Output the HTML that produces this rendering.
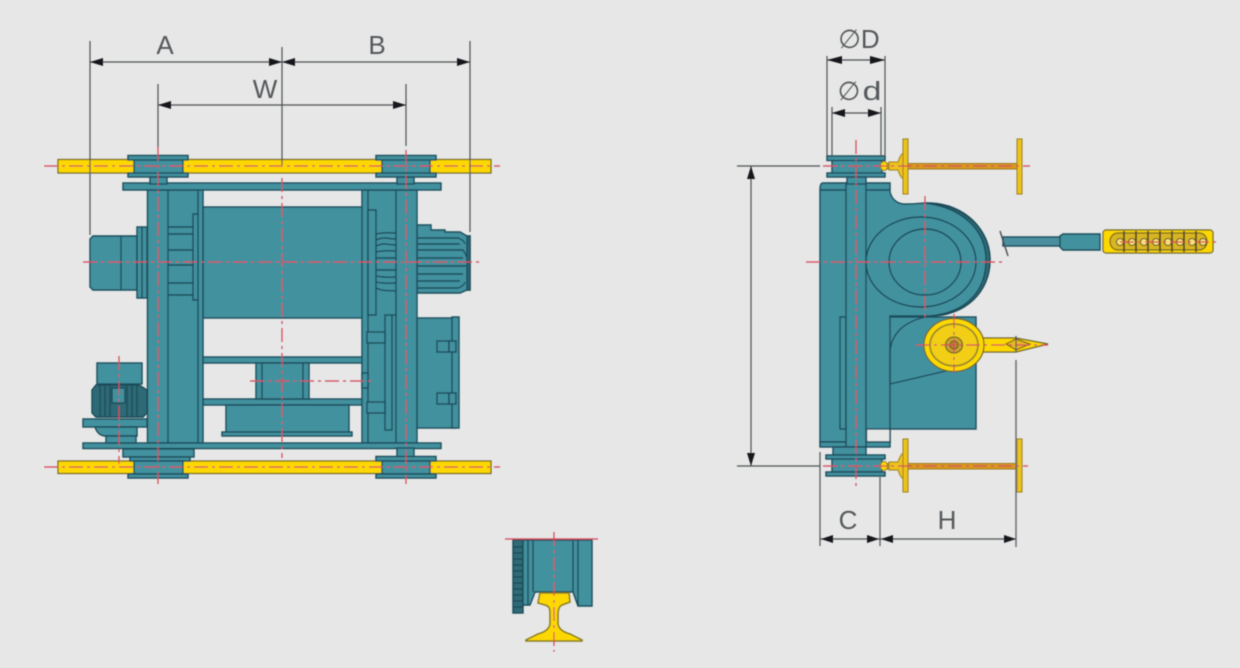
<!DOCTYPE html>
<html><head><meta charset="utf-8"><style>
html,body{margin:0;padding:0;background:#e6e7e6;width:1240px;height:668px;overflow:hidden}
svg{display:block}
text{font-family:"Liberation Sans","DejaVu Sans",sans-serif;font-size:26px;fill:#55595b;text-anchor:middle}
.t rect,.t path,.t ellipse,.t circle{fill:#43919f;stroke:#1c4c5a;stroke-width:1.4}
.t .d{fill:#2f6a76}
.t line,.t .l{stroke:#1c4c5a;stroke-width:1.4;fill:none}
.y rect,.y path,.y ellipse{fill:#fdd800;stroke:#6d6420;stroke-width:1.2}
.o rect,.o path,.o ellipse{fill:#ecc31a;stroke:#9a7a20;stroke-width:1}
.c line{stroke:#d8465a;stroke-width:1.2;stroke-dasharray:14 4 3 4;fill:none}
.dim line{stroke:#4e5254;stroke-width:1.2}
.dim path{fill:#15181a;stroke:none}
</style></head><body>
<svg width="1240" height="668" viewBox="0 0 1240 668" xmlns="http://www.w3.org/2000/svg">
<defs><filter id="b" x="0" y="0" width="100%" height="100%"><feGaussianBlur stdDeviation="0.45"/></filter></defs>
<rect width="1240" height="668" fill="#e6e7e6"/>
<g filter="url(#b)">
<!-- LEFT VIEW -->
<g class="y">
<rect x="58" y="159.500" width="433" height="13.500"/>
<rect x="58" y="461" width="433" height="12.500"/>
</g>
<g class="t">
<!-- left motor -->
<path d="M93 236H137V290H93L90 287V239Z"/>
<line x1="121" y1="236" x2="121" y2="290"/>
<rect x="137" y="227" width="10" height="71"/>
<line x1="142" y1="227" x2="142" y2="298"/>
<!-- right motor -->
<path d="M417 225H431V230H445V232H460L467 236H470V290H467L460 293H417Z"/>
<!-- right box -->
<rect x="417" y="318" width="38" height="110"/>
<rect x="452" y="317" width="7" height="111"/>
<rect x="437" y="341" width="12" height="11"/><rect x="449" y="341" width="7" height="11"/>
<rect x="437" y="393" width="12" height="11"/><rect x="449" y="393" width="7" height="11"/>
<!-- drum -->
<rect x="203" y="207" width="160" height="111"/>
<!-- beams -->
<rect x="203" y="357" width="160" height="6"/>
<rect x="203" y="399" width="160" height="6"/>
<rect x="256" y="363" width="53" height="36"/>
<line x1="262" y1="363" x2="262" y2="399"/><line x1="303" y1="363" x2="303" y2="399"/>
<rect x="226" y="405" width="123" height="28"/>
<rect x="222" y="432" width="130" height="4"/>
<!-- left frame -->
<rect x="147.500" y="190" width="55.500" height="253"/>
<line x1="168" y1="190" x2="168" y2="443"/>
<line x1="198" y1="190" x2="198" y2="443"/>
<path class="l" d="M198 214H193V300H198M168 227H193M168 234H193M168 250H193M168 265H193M168 283H193M168 295H193"/>
<!-- right frame -->
<rect x="362" y="190" width="55" height="253"/>
<line x1="368" y1="190" x2="368" y2="443"/>
<line x1="396" y1="190" x2="396" y2="443"/>
<rect x="368" y="210" width="8" height="105"/>
<rect x="385" y="315" width="7" height="115"/>
<line x1="392" y1="315" x2="396" y2="315"/>
<rect x="367" y="332" width="18" height="11"/>
<rect x="367" y="402" width="18" height="11"/>
<rect x="362" y="373" width="6" height="15"/>
<path class="l" d="M376 234C385 232 388 233 396 233M376 240C385 236 388 239 396 239M376 246C385 242 388 245 396 245M376 252C385 250 388 251 396 251M376 258C385 258 388 258 396 258M376 270C385 270 388 270 396 270M376 276C385 278 388 277 396 277M376 282C385 284 388 283 396 283M376 288C385 292 388 290 396 291"/>
<path class="l" d="M417 238H458Q464 240 465 244M417 244H460M417 250H463Q466 254 467 258M417 258H463M417 266H466M417 274H463M417 281H460M417 288H458Q464 286 465 282"/>
<rect x="467" y="236" width="3" height="54" class="d"/>
<!-- plates -->
<rect x="123" y="183" width="318" height="7"/>
<rect x="83" y="443" width="358" height="5.500"/>
<!-- top wheels -->
<rect x="150" y="177" width="17" height="7"/>
<rect x="397" y="177" width="17" height="7"/>
<rect x="134" y="158" width="49" height="17"/>
<rect x="128" y="155.500" width="60" height="4.500"/>
<rect x="128" y="173" width="60" height="4"/>
<rect x="382" y="158" width="48" height="17"/>
<rect x="376" y="155.500" width="60" height="4.500"/>
<rect x="376" y="173" width="60" height="4"/>
<!-- bottom wheels -->
<rect x="123" y="449" width="71" height="8"/>
<rect x="130" y="457" width="60" height="4"/>
<rect x="134" y="461" width="49" height="13"/>
<rect x="128" y="474" width="60" height="4"/>
<rect x="397" y="448" width="17" height="9"/>
<rect x="376" y="456.500" width="60" height="4.500"/>
<rect x="382" y="461" width="48" height="13"/>
<rect x="376" y="474" width="60" height="4"/>
<!-- small motor -->
<rect x="97" y="363" width="45" height="21"/>
<path class="d" d="M96 385H139L147 390V413L143 417H96L92 413V390Z"/>
<path class="l" d="M100 385V417M105 385V417M110 385V417M127 385V417M132 385V417M137 385V417"/>
<rect x="112" y="388" width="13" height="15"/>
<rect x="83" y="419" width="64" height="8"/>
<path d="M95 427H137V436H106Q98 436 95 427Z"/>
<rect x="106" y="436" width="30" height="7"/>
</g>
<!-- RIGHT VIEW -->
<g class="t">
<rect x="866" y="317" width="110" height="112"/>
<path d="M820 190Q820 183 823 183H890V192C892 200 898 205 908 204C915 204 920 203 930 203C965 204 990 230 990 260C990 292 965 316 930 316H890V442H820Z"/>
<path class="d" d="M925 203C965 204 990 230 990 260C990 292 965 316 930 316C970 312 986 288 986 260C986 232 965 208 925 203Z"/>
<rect x="866.500" y="429" width="23.500" height="13" style="fill:#e6e7e6"/>
<rect x="820" y="442" width="70" height="5"/>
<line x1="820" y1="190" x2="890" y2="190"/>
<ellipse cx="921" cy="262" rx="55" ry="45" class="l" style="fill:none"/>
<ellipse cx="925" cy="262" rx="36" ry="33" class="l" style="fill:none"/>
<rect x="840" y="317" width="6" height="112"/>
<rect x="846" y="183" width="20" height="264"/>
<path class="l" d="M890 384V352Q892 325 925 317"/>
<path class="l" d="M890 384L950 370"/>
<rect x="847" y="177" width="19" height="7"/>
<rect x="833" y="447" width="33" height="8"/>
<rect x="832" y="158" width="50" height="17"/>
<rect x="827" y="156" width="58" height="4.500"/>
<rect x="827" y="173" width="58" height="4"/>
<rect x="832" y="458" width="50" height="14"/>
<rect x="826" y="455" width="59" height="4"/>
<rect x="826" y="472" width="59" height="4"/>
</g>
<g class="o">
<rect x="885" y="163.500" width="134" height="5.500" style="fill:#d99a1e"/>
<path d="M889 162H898Q901 153 904 153V179Q901 179 898 170H889Z"/>
<ellipse cx="884" cy="166" rx="3.500" ry="4.500" style="fill:#fdd800"/>
<rect x="903" y="139" width="5" height="55"/>
<rect x="1017" y="139" width="5" height="55"/>
<rect x="885" y="463.500" width="134" height="5.500" style="fill:#d99a1e"/>
<path d="M889 462H898Q901 453 904 453V479Q901 479 898 470H889Z"/>
<ellipse cx="884" cy="466" rx="3.500" ry="4.500" style="fill:#fdd800"/>
<rect x="903" y="439" width="5" height="53"/>
<rect x="1017" y="439" width="5" height="53"/>
</g>
<g class="y">
<path d="M980 338H1016L1048 344L1016 352H980Z"/>
<path d="M1006 344L1016 339L1030 344L1016 350Z" style="fill:#e8b820"/>
<ellipse cx="954" cy="345" rx="30" ry="26.500"/>
<ellipse cx="954" cy="345" rx="24" ry="21" style="fill:#f2cf14;stroke:#9c8a2a;stroke-width:1.800"/>
<ellipse cx="954" cy="345" rx="8.500" ry="8" style="fill:#c9a030"/>
<ellipse cx="954" cy="345" rx="4" ry="4" style="fill:#b88730"/>
</g>
<!-- pendant -->
<g class="t">
<rect x="1003" y="237" width="58" height="9" style="fill:#4a8fa0"/>
<path d="M1060 236L1063 234H1100V250H1063L1060 247Z"/>
<line x1="1000" y1="231" x2="1008" y2="256" style="stroke:#4b5052"/>
</g>
<g class="y">
<rect x="1103" y="230" width="110" height="23" rx="3"/>
<rect x="1110" y="233" width="97" height="17" rx="8" style="fill:#d8b520"/>
</g>
<g fill="#f5e27c" stroke="#5a4a20" stroke-width="1">
<path d="M1124 231V252M1136 231V252M1148 231V252M1160 231V252M1172 231V252M1184 231V252M1196 231V252" fill="none" stroke-width="1.800"/>
<circle cx="1120" cy="242" r="3.500"/><circle cx="1132" cy="242" r="3.500"/><circle cx="1144" cy="242" r="3.500"/><circle cx="1156" cy="242" r="3.500"/><circle cx="1168" cy="242" r="3.500"/><circle cx="1180" cy="242" r="3.500"/><circle cx="1192" cy="242" r="3.500"/><circle cx="1203" cy="242" r="3.500"/>
</g>
<!-- SECTION -->
<g class="t">
<rect x="513" y="540" width="10" height="73" class="d"/>
<path class="l" style="stroke-width:1.500" d="M513 547H523M513 553H523M513 559H523M513 565H523M513 571H523M513 577H523M513 583H523M513 589H523M513 595H523M513 601H523M513 607H523"/>
<path d="M523 540H592V606H578L573 592H535L530 605H523Z"/>
<line x1="528" y1="540" x2="528" y2="605"/>
<line x1="533" y1="540" x2="533" y2="592"/>
<line x1="573" y1="540" x2="573" y2="592"/>
<line x1="578" y1="540" x2="578" y2="606"/>
</g>
<path d="M540 593H569L570 602L562 605Q558 607 558 614V624Q559 631 570 634L582 640V641H526V640L538 634Q549 631 550 624V612Q550 606 545 605L538 603Z" fill="#fdd800" stroke="#8a7a20" stroke-width="1.500"/>
<!-- center lines -->
<g class="c">
<line x1="44" y1="166" x2="500" y2="166"/>
<line x1="44" y1="467" x2="500" y2="467"/>
<line x1="83" y1="262" x2="482" y2="262"/>
<line x1="158" y1="147" x2="158" y2="484"/>
<line x1="406" y1="150" x2="406" y2="484"/>
<line x1="282" y1="178" x2="282" y2="458"/>
<line x1="250" y1="381" x2="372" y2="381"/>
<line x1="119" y1="356" x2="119" y2="464"/>
<line x1="806" y1="262" x2="1004" y2="262"/>
<line x1="925" y1="196" x2="925" y2="320"/>
<line x1="856" y1="140" x2="856" y2="486"/>
<line x1="823" y1="166" x2="1030" y2="166"/>
<line x1="823" y1="466" x2="1028" y2="466"/>
<line x1="916" y1="345" x2="1048" y2="345"/>
<line x1="954" y1="314" x2="954" y2="372"/>
<line x1="1120" y1="242" x2="1218" y2="242"/>
<line x1="505" y1="539" x2="598" y2="539" style="stroke-dasharray:none"/>
<line x1="554" y1="532" x2="554" y2="652"/>
</g>
<!-- dimensions -->
<g class="dim">
<line x1="90" y1="41" x2="90" y2="235"/>
<line x1="158" y1="84" x2="158" y2="147"/>
<line x1="282" y1="47" x2="282" y2="165"/>
<line x1="406" y1="84" x2="406" y2="146"/>
<line x1="470" y1="41" x2="470" y2="232"/>
<line x1="90" y1="62" x2="470" y2="62"/>
<line x1="158" y1="105" x2="406" y2="105"/>
<path d="M90 62L103 58V66ZM282 62L269 58V66ZM282 62L295 58V66ZM470 62L457 58V66ZM158 105L171 101V109ZM406 105L393 101V109Z"/>
<line x1="737" y1="166" x2="820" y2="166"/>
<line x1="737" y1="466" x2="820" y2="466"/>
<line x1="751" y1="166" x2="751" y2="466"/>
<path d="M751 166L747 179H755ZM751 466L747 453H755Z"/>
<line x1="827" y1="56" x2="827" y2="156"/>
<line x1="885" y1="56" x2="885" y2="156"/>
<line x1="827" y1="60" x2="885" y2="60"/>
<path d="M827 60L842 56V64ZM885 60L870 56V64Z"/>
<line x1="832" y1="107" x2="832" y2="156"/>
<line x1="881" y1="107" x2="881" y2="156"/>
<line x1="832" y1="113" x2="881" y2="113"/>
<path d="M832 113L845 109V117ZM881 113L868 109V117Z"/>
<line x1="820" y1="452" x2="820" y2="546"/>
<line x1="880" y1="477" x2="880" y2="546"/>
<line x1="1016" y1="360" x2="1016" y2="547" style="stroke:#6d7072;stroke-width:1.500"/>
<line x1="1016" y1="336" x2="1016" y2="352"/>
<line x1="820" y1="539" x2="1016" y2="539"/>
<path d="M821 539L833 535V543ZM879 539L867 535V543ZM881 539L893 535V543ZM1016 539L1004 535V543Z"/>
</g>
<text x="165" y="54">A</text>
<text x="377" y="54">B</text>
<text x="265" y="98">W</text>
<text x="859" y="48">∅D</text>
<text x="849" y="100">∅</text>
<text transform="translate(872 100) scale(1.300 1)">d</text>
<text x="848" y="529">C</text>
<text x="947" y="529">H</text>
</g>
</svg>
</body></html>
